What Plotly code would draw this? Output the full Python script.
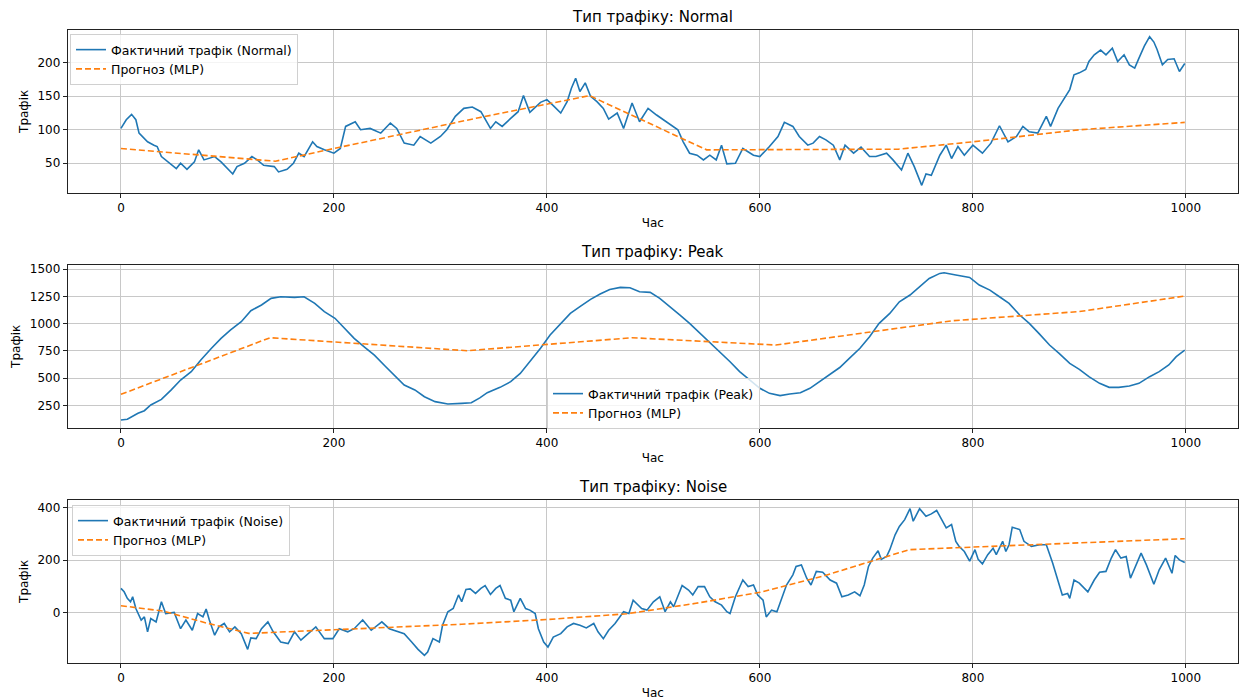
import plotly.graph_objects as go

# ---------------- data ----------------
normal_hours = [0,5,10,14,17,20,25,31,34,38,44,52,56,62,69,73,78,88,94,100,105,109,116,123,128,134,144,148,156,162,167,172,180,184,191,200,206,211,220,225,234,244,253,259,266,275,281,291,300,306,314,322,330,338,347,352,358,366,373,378,384,394,400,406,413,419,423,427,431,436,441,447,453,458,466,472,480,487,495,503,509,516,523,528,534,541,547,553,559,564,569,577,584,594,600,609,617,623,631,637,645,650,656,662,669,675,680,688,695,703,709,719,725,733,739,745,752,756,761,769,775,780,786,792,800,809,817,825,833,841,847,853,861,869,873,880,886,891,895,900,906,909,914,920,925,931,936,942,947,952,956,961,966,970,973,978,983,989,994,999]
normal_values = [102,115,123,115,95,90,82,77,75,60,52,42,50,41,52,70,55,60,52,42,34,45,50,60,55,47,45,37,41,50,65,60,82,75,70,65,72,105,112,100,102,95,110,102,80,77,90,80,90,100,120,132,134,127,102,112,105,117,127,151,126,141,145,136,125,142,162,177,157,170,150,142,132,116,125,102,140,112,132,122,115,107,100,82,65,62,55,62,55,77,49,50,72,62,60,75,90,111,105,90,77,80,90,85,77,55,77,65,74,60,60,65,55,40,65,45,17,34,32,62,77,57,75,62,77,65,80,106,82,90,105,97,95,120,105,132,147,160,182,185,190,202,212,219,212,222,202,212,197,192,207,225,239,231,220,197,205,206,187,199]
normal_fc_hours = [0,145,200,336,440,550,730,800,900,999]
normal_fc_values = [72,53,72,118,151,70,71,82,100,111]

peak_hours = [0,6,16,22,28,38,47,56,66,75,85,94,103,113,122,132,141,150,163,172,182,191,201,210,219,229,238,248,257,266,276,285,295,307,320,329,337,344,356,366,375,384,394,403,413,422,431,441,450,459,469,478,487,497,506,516,525,534,544,553,562,572,581,591,600,609,619,628,638,647,656,666,675,684,694,703,712,722,731,741,750,759,769,773,784,797,806,816,825,834,844,853,862,872,881,891,900,909,919,928,937,947,956,966,975,984,991,999]
peak_values = [116,122,177,201,253,305,390,482,559,666,773,864,941,1017,1118,1170,1231,1246,1240,1246,1185,1109,1048,956,864,782,711,611,528,436,391,329,284,262,268,274,318,366,415,467,543,650,773,895,1002,1093,1155,1222,1271,1313,1332,1329,1292,1286,1231,1155,1078,1002,910,834,742,650,559,476,406,360,339,354,366,406,467,528,597,681,773,880,1002,1093,1200,1262,1338,1414,1460,1466,1445,1423,1353,1307,1246,1185,1078,1002,910,803,727,635,580,513,452,415,415,427,452,513,559,620,696,757]
peak_fc_hours = [0,140,325,480,615,780,900,999]
peak_fc_values = [351,870,751,870,803,1025,1110,1252]

noise_hours = [0,3,6,9,11,14,19,22,25,28,33,38,42,50,56,61,67,72,77,80,83,88,92,97,102,107,113,119,122,127,132,138,143,150,157,163,169,176,183,191,199,205,213,219,227,235,245,252,259,266,273,279,285,288,293,299,302,307,312,317,320,324,328,333,338,342,347,352,356,361,366,369,375,380,384,389,392,397,401,406,413,419,425,431,437,444,448,453,458,464,472,477,481,489,494,500,506,511,516,519,527,533,537,542,548,553,558,564,569,572,577,584,589,594,598,603,606,611,616,620,625,631,634,639,644,648,653,659,666,672,677,683,689,694,698,702,706,711,714,719,722,727,731,736,741,744,750,756,761,766,772,775,780,784,787,792,797,802,805,809,814,819,822,828,831,834,837,844,848,855,863,869,875,881,884,889,891,895,900,908,914,919,925,930,934,939,944,948,953,958,963,970,975,981,987,990,994,999]
noise_values = [92,79,54,41,60,15,-29,-17,-74,-23,-36,41,-4,0,-62,-29,-68,-4,-17,13,-29,-87,-55,-42,-74,-55,-81,-141,-97,-100,-62,-36,-74,-113,-119,-74,-106,-81,-55,-100,-100,-62,-74,-62,-29,-68,-36,-62,-72,-81,-113,-141,-164,-151,-100,-113,-49,3,15,67,41,88,90,73,92,103,69,92,103,54,47,3,54,15,9,-4,-62,-113,-132,-94,-81,-55,-42,-49,-59,-42,-74,-100,-68,-42,3,-4,47,15,9,41,60,3,41,22,103,86,67,99,99,60,41,28,3,-4,60,124,99,105,67,47,-17,9,3,47,105,144,176,182,131,105,157,154,124,112,60,67,79,64,105,176,208,236,203,214,240,297,329,355,397,349,397,368,377,390,349,323,336,272,253,233,196,240,203,186,221,246,221,272,233,259,326,317,272,253,259,259,188,112,67,73,54,124,112,79,124,154,157,208,240,208,214,131,182,227,182,108,163,208,150,218,201,191]
noise_fc_hours = [0,40,80,120,200,320,400,475,540,600,660,740,800,999]
noise_fc_values = [26,5,-40,-80,-66,-45,-27,-5,35,77,140,240,250,282]

panels = [
    ("Normal", normal_hours, normal_values, normal_fc_hours, normal_fc_values),
    ("Peak", peak_hours, peak_values, peak_fc_hours, peak_fc_values),
    ("Noise", noise_hours, noise_values, noise_fc_hours, noise_fc_values),
]
y_ranges = [[6, 249], [45, 1537], [-192, 430]]
y_ticks = [[50, 100, 150, 200], [250, 500, 750, 1000, 1250, 1500], [0, 200, 400]]

W, H = 1240, 700
x_dom = [67.7 / W, 1238 / W]
y_px = [(30, 192.7), (265, 427.7), (500, 662.7)]
title_py = [17, 252, 487]
legend_pos = [(70, 34), (547, 378), (72, 505)]

BLUE = "#1f77b4"
ORANGE = "#ff7f0e"
FONT = "DejaVu Sans"

fig = go.Figure()
layout = dict(
    width=W, height=H,
    margin=dict(l=0, r=0, t=0, b=0, autoexpand=False),
    paper_bgcolor="white", plot_bgcolor="white",
    font=dict(family=FONT, size=12, color="#000"),
    hovermode=False,
    annotations=[],
)

for i, (name, hx, hv, fx, fv) in enumerate(panels):
    n = "" if i == 0 else str(i + 1)
    leg = "legend" + n
    fig.add_trace(go.Scatter(
        x=hx, y=hv, mode="lines", name=f"Фактичний трафік ({name})",
        line=dict(color=BLUE, width=1.6), xaxis="x" + n, yaxis="y" + n, legend=leg))
    fig.add_trace(go.Scatter(
        x=fx, y=fv, mode="lines", name="Прогноз (MLP)",
        line=dict(color=ORANGE, width=1.6, dash="6px,3px"), xaxis="x" + n, yaxis="y" + n, legend=leg))

    top, bot = y_px[i]
    common = dict(showline=True, mirror=True, linecolor="#222", linewidth=1,
                  ticks="outside", ticklen=4, tickcolor="#222", automargin=False,
                  showgrid=True, gridcolor="#c8c8c8", gridwidth=1, zeroline=False,
                  tickfont=dict(size=12, family=FONT, color="#000"))
    layout["xaxis" + n] = dict(
        domain=x_dom, anchor="y" + n, range=[-50, 1049],
        tickmode="array", tickvals=[0, 200, 400, 600, 800, 1000],
        title=dict(text="Час", standoff=4, font=dict(size=12, family=FONT)), **common)
    layout["yaxis" + n] = dict(
        domain=[(H - bot) / H, (H - top) / H], anchor="x" + n, range=y_ranges[i],
        tickmode="array", tickvals=y_ticks[i],
        title=dict(text="Трафік", standoff=6, font=dict(size=12, family=FONT)), **common)
    layout["annotations"].append(dict(
        text=f"Тип трафіку: {name}", xref="paper", yref="paper",
        x=(x_dom[0] + x_dom[1]) / 2, y=(H - title_py[i]) / H,
        xanchor="center", yanchor="middle", showarrow=False,
        font=dict(size=15, family=FONT, color="#000")))
    lx, ly = legend_pos[i]
    layout[leg] = dict(
        x=lx / W, y=(H - ly) / H, xanchor="left", yanchor="top",
        bgcolor="rgba(255,255,255,0.8)", bordercolor="#d0d0d0", borderwidth=1,
        font=dict(size=12.5, family=FONT, color="#000"), tracegroupgap=0,
        itemwidth=30)

fig.update_layout(**layout)

# remove the page's default body margin so the 1240x700 figure fills the window exactly
post = (
    "document.documentElement.style.margin='0';"
    "document.body.style.margin='0';document.body.style.padding='0';"
    "document.body.style.overflow='hidden';"
    "var gd=document.getElementById('{plot_id}');"
    "gd.style.width='1240px';gd.style.height='700px';"
    "Plotly.relayout(gd,{width:1240,height:700});"
)
fig.write_html("out.html", post_script=post, config={"displayModeBar": False})
